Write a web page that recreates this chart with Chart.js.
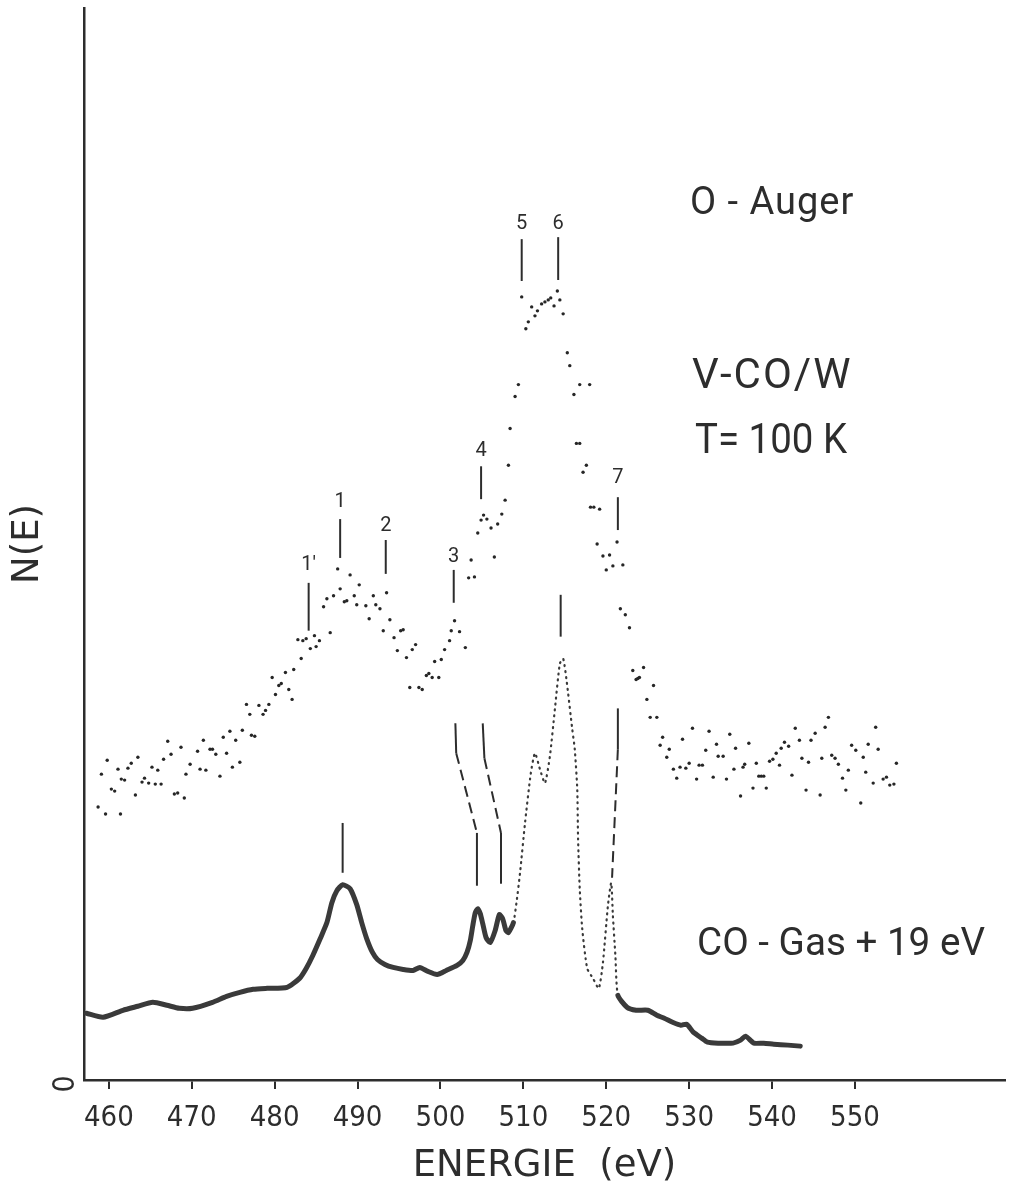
<!DOCTYPE html>
<html>
<head>
<meta charset="utf-8">
<title>O-Auger V-CO/W</title>
<script src="https://cdn.jsdelivr.net/npm/chart.js@4.4.1/dist/chart.umd.min.js"></script>
<style>
  html, body { margin: 0; padding: 0; background: #fff; }
  #wrap { width: 1013px; height: 1191px; }
</style>
</head>
<body>
<div id="wrap"><canvas id="auger" width="1013" height="1191"></canvas></div>
<script>
// energy axis (eV)
const energyTicks = [460, 470, 480, 490, 500, 510, 520, 530, 540, 550];

// V-CO/W, T = 100 K : counted O-Auger spectrum (one dot per channel)
const vcoE = [
  458.7, 459.1, 459.6, 459.8, 460.3, 460.7, 461.1, 461.4, 461.5, 461.9, 462.3, 462.7, 463.2, 463.5,
  464.0, 464.3, 464.8, 465.2, 465.6, 465.9, 466.3, 466.6, 467.1, 467.5, 467.9, 468.3, 468.7, 469.1,
  469.3, 469.8, 470.7, 471.0, 471.4, 471.7, 472.2, 472.5, 472.9, 473.4, 473.8, 474.2, 474.6, 474.9,
  475.3, 475.8, 476.1, 476.6, 477.0, 477.2, 477.6, 478.1, 478.6, 478.9, 479.3, 479.7, 480.1, 480.5,
  480.8, 481.3, 481.7, 482.1, 482.3, 482.8, 483.2, 483.4, 483.8, 484.3, 484.8, 485.0, 485.4, 485.9,
  486.3, 486.7, 487.1, 487.6, 487.9, 488.4, 488.7, 489.1, 489.6, 489.9, 490.2, 491.0, 491.4, 491.9,
  492.2, 492.7, 493.1, 493.5, 493.9, 494.4, 494.8, 495.2, 495.5, 495.9, 496.3, 496.6, 497.0, 497.4,
  497.8, 498.3, 498.6, 499.0, 499.3, 499.8, 500.1, 500.5, 501.1, 501.3, 501.7, 502.3, 503.0,
  503.4, 503.7, 504.1, 504.5, 504.9, 505.2, 505.6, 506.1, 506.5, 506.9, 507.4, 507.8, 508.2, 508.4,
  509.0, 509.4, 509.8, 510.3, 510.6, 511.0, 511.4, 511.7, 512.2, 512.6, 513.0, 513.3, 513.7, 514.1,
  514.4, 514.8, 515.3, 515.6, 516.1, 516.4, 516.8, 516.8, 518.0, 517.2, 517.6, 518.1, 518.5, 518.9,
  519.2, 519.6, 520.0, 520.4, 520.8, 521.3, 521.7, 522.0, 522.3, 522.8,
  523.2, 523.6, 523.8, 524.0, 524.5, 524.9, 525.3, 525.7, 526.1, 526.5, 526.8, 527.3, 527.6, 528.1,
  528.5, 528.9, 529.2, 529.6, 530.0, 530.4, 530.9, 531.2, 531.6, 532.0, 532.4, 532.9, 533.3, 533.5,
  534.1, 534.5, 534.9, 535.4, 535.6, 536.2, 536.5, 536.7, 537.2, 537.7, 538.1, 538.4, 538.7, 539.0,
  539.3, 539.7, 540.1, 540.5, 540.9, 541.1, 541.5, 542.0, 542.4, 542.8, 543.3, 543.6, 544.1, 544.4,
  544.7, 545.2, 545.8, 546.0, 546.4, 546.8, 547.2, 547.6, 548.0, 548.5, 548.9, 549.2, 549.6, 550.1,
  550.7, 551.0, 551.3, 551.6, 552.2, 552.5, 552.8, 553.4, 553.8, 554.2, 554.7, 555.0
];
const vcoN = [
  274, 307, 267, 321, 292, 290, 312, 267, 302, 301, 313, 318, 286, 324,
  299, 303, 298, 314, 297, 311, 297, 322, 340, 327, 287, 288, 334, 283,
  307, 317, 330, 312, 341, 311, 332, 332, 327, 305, 344, 328, 350, 314,
  341, 319, 351, 377, 367, 346, 345, 376, 367, 371, 377, 404, 387, 396,
  398, 409, 392, 382, 412, 442, 423, 441, 443, 433, 446, 435, 441, 475,
  483, 449, 486, 513, 493, 480, 481, 507, 486, 477, 497, 476, 463, 486,
  477, 473, 451, 489, 462, 444, 431, 451, 452, 424, 394, 432, 437, 394,
  392, 406, 408, 404, 420, 404, 422, 432, 441, 451, 461, 450, 434,
  504, 522, 505, 549, 562, 567, 563, 554, 525, 558, 568, 582, 617, 654,
  686, 698, 786, 754, 761, 776, 767, 772, 779, 781, 783, 785, 777, 792,
  783, 769, 730, 717, 688, 639, 639, 698, 698, 610, 617, 575, 575, 538,
  573, 526, 512, 527, 516, 540, 473, 517, 467, 454,
  411, 402, 403, 404, 414, 382, 364, 396, 364, 336, 344, 324, 332, 312,
  303, 314, 342, 313, 318, 353, 302, 316, 316, 331, 350, 304, 337, 325,
  325, 302, 347, 312, 333, 285, 314, 317, 338, 293, 318, 305, 305, 305,
  293, 320, 322, 328, 316, 333, 339, 335, 306, 353, 341, 323, 291, 319,
  341, 348, 286, 323, 354, 364, 326, 323, 317, 303, 291, 311, 336, 331,
  278, 324, 309, 337, 298, 354, 332, 302, 304, 296, 297, 318
];

// CO gas phase spectrum, shifted by +19 eV
const gasE = [
  457.3, 459.3, 461.7, 463.5, 465.3, 467.0, 468.5, 470.1, 472.5, 474.2, 475.8, 477.4, 479.1, 481.5,
  483.0, 483.8, 484.6, 485.5, 486.3, 486.9, 487.5, 488.2, 489.1, 489.9, 490.5, 491.1, 491.8, 492.4,
  493.3, 494.3, 495.5, 496.7, 497.5, 498.5, 499.6, 500.7, 502.0, 502.7, 503.2, 503.6, 503.9, 504.2,
  504.5, 504.8, 505.1, 505.5, 506.0, 506.6, 507.1, 507.5, 507.9, 508.2, 508.8, 509.2, 509.6, 510.2,
  510.9, 511.4, 512.0, 512.6, 513.2, 513.8, 514.4, 514.8, 515.2, 515.9, 516.2, 516.5, 516.6, 516.8,
  517.1, 517.7, 518.4, 519.1, 519.6, 520.2, 520.6, 520.8, 521.1, 521.4, 522.5, 523.6, 525.0, 526.1,
  527.0, 528.0, 529.0, 529.7, 530.5, 531.5, 532.2, 533.5, 535.3, 536.2, 536.8, 537.8, 539.0, 540.2,
  541.9, 543.4
];
const gasN = [
  67, 63, 70, 74, 78, 75, 72, 72, 78, 84, 88, 91, 92, 93,
  102, 112, 125, 142, 158, 178, 190, 196, 192, 176, 158, 142, 128, 121,
  116, 113, 111, 110, 113, 109, 106, 110, 115, 120, 128, 140, 155, 168,
  172, 167, 157, 143, 138, 150, 166, 162, 150, 148, 158, 180, 208, 258,
  308, 328, 312, 298, 325, 372, 418, 423, 402, 352, 332, 292, 242, 192,
  152, 112, 102, 92, 118, 175, 198, 165, 125, 85, 73, 70, 70, 65,
  62, 58, 55, 56, 48, 42, 38, 37, 37, 40, 44, 37, 37, 36,
  35, 34
];
// stretch of the gas trace that was plotted point by point
const gasDottedFrom = 508.8;
const gasDottedTo = 521.4;

// numbered peaks on the adsorbate spectrum
const peakNames = ["1'", '1', '2', '3', '4', '5', '6', '7'];
const peakE = [484.1, 487.9, 493.4, 501.6, 504.9, 509.8, 514.2, 521.4];
const peakLow = [451, 524, 508, 479, 583, 802, 803, 552];
const peakHigh = [499, 563, 542, 512, 616, 844, 846, 585];
const peakLabelN = [512, 575, 551, 520, 626, 854, 854, 599];

// correspondence lines down to the gas spectrum (E, N vertices)
const guideLines = [
  { pts: [[488.2, 208], [488.2, 258]], dashed: [false] },
  { pts: [[501.8, 358], [501.9, 328], [504.4, 248], [504.4, 195]], dashed: [false, true, false] },
  { pts: [[505.1, 358], [505.3, 323], [507.3, 248], [507.3, 197]], dashed: [false, true, false] },
  { pts: [[514.5, 445], [514.5, 487]], dashed: [false] },
  { pts: [[521.4, 373], [521.4, 332], [520.7, 203]], dashed: [false, true] }
];

const ink = '#2d2d2d';
const tickFont = "'Liberation Sans Narrow', 'DejaVu Sans Condensed', Roboto, sans-serif";
const titleFont = "'DejaVu Sans', Roboto, sans-serif";

// free text blocks (canvas px, left edge / baseline)
const notes = [
  { text: 'O - Auger', x: 690, y: 214, size: 38, width: 165, spacing: 1 },
  { text: 'V-CO/W', x: 692, y: 388, size: 42, width: 166, spacing: 2 },
  { text: 'T= 100 K', x: 695, y: 453, size: 42, width: 152, spacing: 0 },
  { text: 'CO - Gas + 19 eV', x: 697, y: 955, size: 39, width: 288, spacing: 0 }
];

const annotate = {
  id: 'annotate',
  afterDatasetsDraw(chart) {
    const { ctx, scales: { x, y } } = chart;
    ctx.save();
    ctx.strokeStyle = ink;
    ctx.fillStyle = ink;
    ctx.lineWidth = 2;

    // peak ticks with their numbers
    ctx.font = '20px Roboto, sans-serif';
    ctx.textAlign = 'center';
    ctx.textBaseline = 'alphabetic';
    peakE.forEach((e, i) => {
      const px = x.getPixelForValue(e);
      ctx.beginPath();
      ctx.moveTo(px, y.getPixelForValue(peakLow[i]));
      ctx.lineTo(px, y.getPixelForValue(peakHigh[i]));
      ctx.stroke();
      ctx.fillText(peakNames[i], px, y.getPixelForValue(peakLabelN[i]));
    });

    guideLines.forEach(g => {
      for (let i = 0; i < g.pts.length - 1; i++) {
        ctx.setLineDash(g.dashed[i] ? [11, 6] : []);
        ctx.beginPath();
        ctx.moveTo(x.getPixelForValue(g.pts[i][0]), y.getPixelForValue(g.pts[i][1]));
        ctx.lineTo(x.getPixelForValue(g.pts[i + 1][0]), y.getPixelForValue(g.pts[i + 1][1]));
        ctx.stroke();
      }
    });
    ctx.setLineDash([]);

    ctx.textAlign = 'left';
    notes.forEach(n => {
      ctx.font = `${n.size}px Roboto, sans-serif`;
      ctx.letterSpacing = `${n.spacing}px`;
      ctx.fillText(n.text, n.x, n.y, n.width);
    });
    ctx.letterSpacing = '0px';

    // zero of the intensity axis, written sideways
    ctx.translate(66, y.getPixelForValue(0) + 4);
    ctx.rotate(-Math.PI / 2);
    ctx.font = `30px ${tickFont}`;
    ctx.textAlign = 'center';
    ctx.textBaseline = 'middle';
    ctx.fillText('0', 0, 0);
    ctx.restore();
  }
};

const inDotted = c => c.p0.parsed.x >= gasDottedFrom && c.p1.parsed.x <= gasDottedTo;

new Chart(document.getElementById('auger'), {
  type: 'scatter',
  data: {
    datasets: [
      {
        label: 'V-CO/W',
        data: vcoE.map((e, i) => ({ x: e, y: vcoN[i] })),
        pointRadius: 1.7,
        pointBackgroundColor: '#262626',
        pointBorderWidth: 0,
        showLine: false
      },
      {
        label: 'CO-Gas + 19 eV',
        data: gasE.map((e, i) => ({ x: e, y: gasN[i] })),
        showLine: true,
        pointRadius: 0,
        borderColor: '#3a3a3a',
        borderWidth: 5,
        borderCapStyle: 'round',
        borderJoinStyle: 'round',
        tension: 0.2,
        segment: {
          borderDash: c => inDotted(c) ? [1, 5] : undefined,
          borderWidth: c => inDotted(c) ? 2.2 : undefined
        }
      }
    ]
  },
  options: {
    responsive: false,
    animation: false,
    layout: { padding: { top: 8, right: 8, bottom: 6, left: 0 } },
    plugins: { legend: { display: false }, tooltip: { enabled: false } },
    scales: {
      x: {
        type: 'linear',
        min: 457.0,
        max: 568.1,
        afterBuildTicks: s => { s.ticks = energyTicks.map(v => ({ value: v })); },
        ticks: {
          autoSkip: false,
          maxRotation: 0,
          padding: 15,
          color: ink,
          font: { family: tickFont, size: 29, lineHeight: 1.0 }
        },
        grid: { drawOnChartArea: false, drawTicks: true, tickLength: 9, color: ink, lineWidth: 2 },
        border: { display: true, color: ink, width: 2.5 },
        title: {
          display: true,
          text: 'ENERGIE  (eV)',
          color: ink,
          font: { family: titleFont, size: 37, lineHeight: 1.0 },
          padding: { top: 0, bottom: 0 }
        }
      },
      y: {
        type: 'linear',
        min: 0,
        max: 1076,
        ticks: { display: false },
        grid: { display: false, drawTicks: false },
        border: { display: true, color: ink, width: 2.5 },
        title: {
          display: true,
          text: 'N(E)',
          color: ink,
          font: { family: titleFont, size: 37 },
          padding: { top: 6, bottom: 0 }
        },
        afterFit: s => { s.width = 84; }
      }
    }
  },
  plugins: [annotate]
});
</script>
</body>
</html>
